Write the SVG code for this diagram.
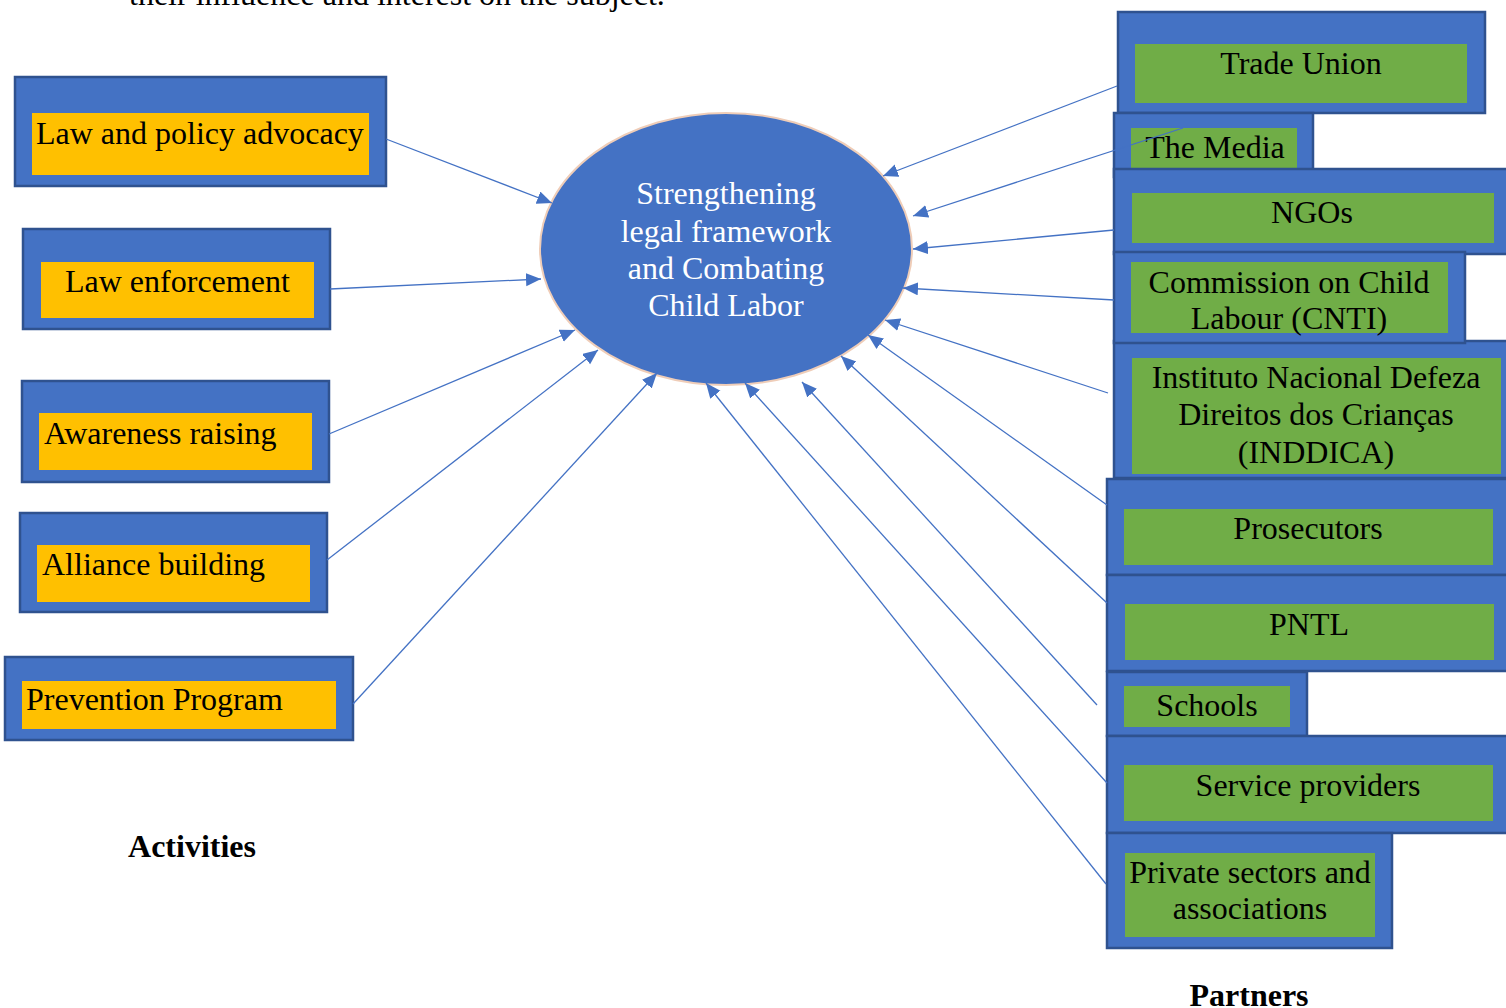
<svg xmlns="http://www.w3.org/2000/svg" width="1506" height="1008" viewBox="0 0 1506 1008">
  <style>
    .outer { fill: #4472C4; stroke: #2F528F; stroke-width: 2.5; }
    .act { fill: #FFC000; }
    .prt { fill: #70AD47; }
    .t { font-family: "Liberation Serif", "Times New Roman", serif; font-size: 32px; fill: #000; }
    .c { text-anchor: middle; }
    .hub { font-family: "Liberation Serif", "Times New Roman", serif; font-size: 32px; fill: #FFFFFF; text-anchor: middle; }
    .b { font-weight: bold; }
    .link { stroke: #4472C4; stroke-width: 1.3; fill: none; marker-end: url(#arrow); }
  </style>
  <defs>
    <marker id="arrow" markerUnits="userSpaceOnUse" markerWidth="16" markerHeight="14" refX="15" refY="6.5" orient="auto">
      <path d="M0,0 L15,6.5 L0,13 z" fill="#4472C4"/>
    </marker>
  </defs>

  <rect width="1506" height="1008" fill="#FFFFFF"/>

  <!-- running paragraph text above the figure -->
  <text class="t" x="129" y="5">their influence and interest on the subject.</text>

  <!-- central goal -->
  <g id="goal">
    <ellipse cx="726" cy="249" rx="186" ry="136" fill="#4472C4" stroke="#EFCDB8" stroke-width="2"/>
    <text class="hub" x="726" y="204">Strengthening</text>
    <text class="hub" x="726" y="242">legal framework</text>
    <text class="hub" x="726" y="279">and Combating</text>
    <text class="hub" x="726" y="316">Child Labor</text>
  </g>

  <!-- activities -->
  <g id="act-law-policy">
    <rect class="outer" x="15" y="77" width="371" height="109"/>
    <rect class="act" x="32" y="113" width="337" height="62"/>
    <text class="t" x="36" y="144">Law and policy advocacy</text>
  </g>
  <g id="act-law-enforcement">
    <rect class="outer" x="23" y="229" width="307" height="100"/>
    <rect class="act" x="41" y="262" width="273" height="56"/>
    <text class="t" x="65" y="292">Law enforcement</text>
  </g>
  <g id="act-awareness">
    <rect class="outer" x="22" y="381" width="307" height="101"/>
    <rect class="act" x="39" y="413" width="273" height="57"/>
    <text class="t" x="44" y="444">Awareness raising</text>
  </g>
  <g id="act-alliance">
    <rect class="outer" x="20" y="513" width="307" height="99"/>
    <rect class="act" x="37" y="545" width="273" height="57"/>
    <text class="t" x="42" y="575">Alliance building</text>
  </g>
  <g id="act-prevention">
    <rect class="outer" x="5" y="657" width="348" height="83"/>
    <rect class="act" x="22" y="681" width="314" height="48"/>
    <text class="t" x="26" y="710">Prevention Program</text>
  </g>
  <text class="t b c" x="192" y="857">Activities</text>

  <!-- partners -->
  <g id="prt-trade-union">
    <rect class="outer" x="1118" y="12" width="367" height="101"/>
    <rect class="prt" x="1135" y="44" width="332" height="59"/>
    <text class="t c" x="1301" y="74">Trade Union</text>
  </g>
  <g id="prt-media">
    <rect class="outer" x="1114" y="113" width="199" height="64"/>
    <rect class="prt" x="1131" y="128" width="166" height="47"/>
    <text class="t c" x="1215" y="158">The Media</text>
  </g>
  <g id="prt-ngos">
    <rect class="outer" x="1114" y="169" width="410" height="85"/>
    <rect class="prt" x="1132" y="193" width="362" height="50"/>
    <text class="t c" x="1312" y="223">NGOs</text>
  </g>
  <g id="prt-inddica">
    <rect class="outer" x="1114" y="341" width="410" height="137"/>
    <rect class="prt" x="1132" y="358" width="369" height="116"/>
    <text class="t c" x="1316" y="388">Instituto Nacional Defeza</text>
    <text class="t c" x="1316" y="425">Direitos dos Crianças</text>
    <text class="t c" x="1316" y="463">(INDDICA)</text>
  </g>
  <g id="prt-cnti">
    <rect class="outer" x="1114" y="252" width="351" height="91"/>
    <rect class="prt" x="1131" y="262" width="317" height="71"/>
    <text class="t c" x="1289" y="293">Commission on Child</text>
    <text class="t c" x="1289" y="329">Labour (CNTI)</text>
  </g>
  <g id="prt-prosecutors">
    <rect class="outer" x="1107" y="479" width="417" height="96"/>
    <rect class="prt" x="1124" y="509" width="369" height="56"/>
    <text class="t c" x="1308" y="539">Prosecutors</text>
  </g>
  <g id="prt-pntl">
    <rect class="outer" x="1107" y="575" width="417" height="96"/>
    <rect class="prt" x="1125" y="604" width="369" height="56"/>
    <text class="t c" x="1309" y="635">PNTL</text>
  </g>
  <g id="prt-schools">
    <rect class="outer" x="1107" y="672" width="200" height="64"/>
    <rect class="prt" x="1124" y="686" width="166" height="41"/>
    <text class="t c" x="1207" y="716">Schools</text>
  </g>
  <g id="prt-service">
    <rect class="outer" x="1107" y="736" width="417" height="97"/>
    <rect class="prt" x="1124" y="765" width="369" height="56"/>
    <text class="t c" x="1308" y="796">Service providers</text>
  </g>
  <g id="prt-private">
    <rect class="outer" x="1107" y="833" width="285" height="115"/>
    <rect class="prt" x="1125" y="853" width="250" height="84"/>
    <text class="t c" x="1250" y="883">Private sectors and</text>
    <text class="t c" x="1250" y="919">associations</text>
  </g>
  <text class="t b c" x="1249" y="1006">Partners</text>

  <!-- connectors into the goal -->
  <g id="connectors">
    <line class="link" x1="386" y1="139" x2="552" y2="203"/>
    <line class="link" x1="330" y1="289" x2="541" y2="279"/>
    <line class="link" x1="329" y1="434" x2="575" y2="330"/>
    <line class="link" x1="327" y1="560" x2="598" y2="350"/>
    <line class="link" x1="353" y1="704" x2="657" y2="373"/>

    <line class="link" x1="1117" y1="86" x2="883" y2="176"/>
    <line class="link" x1="1183" y1="128" x2="913" y2="216"/>
    <line class="link" x1="1114" y1="230" x2="913" y2="249"/>
    <line class="link" x1="1114" y1="300" x2="903" y2="288"/>
    <line class="link" x1="1108" y1="393" x2="885" y2="320"/>
    <line class="link" x1="1107" y1="505" x2="868" y2="335"/>
    <line class="link" x1="1107" y1="603" x2="841" y2="356"/>
    <line class="link" x1="1097" y1="705" x2="802" y2="382"/>
    <line class="link" x1="1107" y1="783" x2="745" y2="383"/>
    <line class="link" x1="1106" y1="884" x2="706" y2="383"/>
  </g>
</svg>
